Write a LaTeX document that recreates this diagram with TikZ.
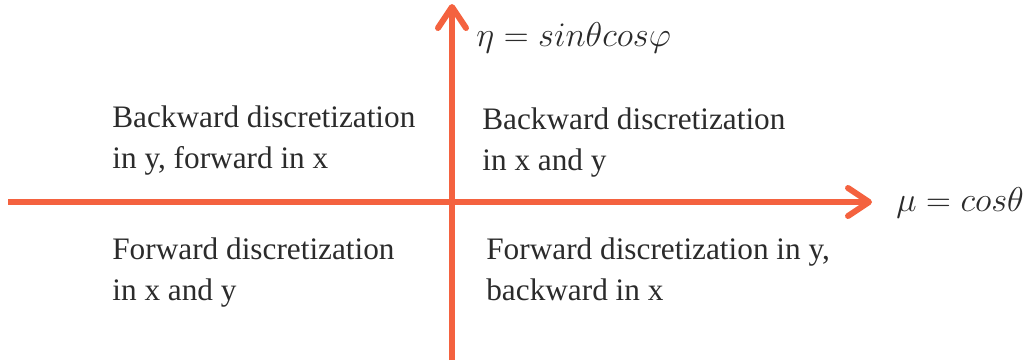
\RequirePackage{fix-cm}
\documentclass[tikz,border=0pt]{standalone}
\usepackage{fontspec}
\setmainfont{Liberation Serif}
\usepackage{tikz}
\usetikzlibrary{arrows.meta}
\definecolor{axisc}{HTML}{F4623F}
\definecolor{txtc}{HTML}{2B2B2B}

\begin{document}
\begin{tikzpicture}[
  x=0.02cm, y=-0.02cm,
  ax/.style={line width=3.4pt, axisc, -{Straight Barb[length=0.42cm, width=0.56cm, round]}},
  lbl/.style={anchor=base west, inner sep=0pt, align=left, text=txtc, font=\fontsize{17.8}{22.8}\selectfont},
  mlbl/.style={anchor=base west, inner sep=0pt, text=txtc, font=\fontsize{19.6}{23}\selectfont}
]
\useasboundingbox (0,0) rectangle (1026,363);
% axes
\coordinate (xl) at (8,202);
\coordinate (xr) at (872,202);
\coordinate (yb) at (452,360);
\coordinate (yt) at (452,4);
\draw[ax] (xl) -- (xr);
\draw[ax] (yb) -- (yt);

\node[mlbl] (eta) at (476,46) {$\eta = sin\theta cos\varphi$};
\node[mlbl] (mu) at (896,211) {$\mu = cos\theta$};

% quadrants (base = last line)
\node[lbl] (q2) at (112,168) {Backward discretization\\in y, forward in x};
\node[lbl] (q1) at (482,170) {Backward discretization\\in x and y};
\node[lbl] (q3) at (112,300) {Forward discretization\\in x and y};
\node[lbl] (q4) at (486,300) {Forward discretization in y,\\backward in x};
\end{tikzpicture}
\end{document}
